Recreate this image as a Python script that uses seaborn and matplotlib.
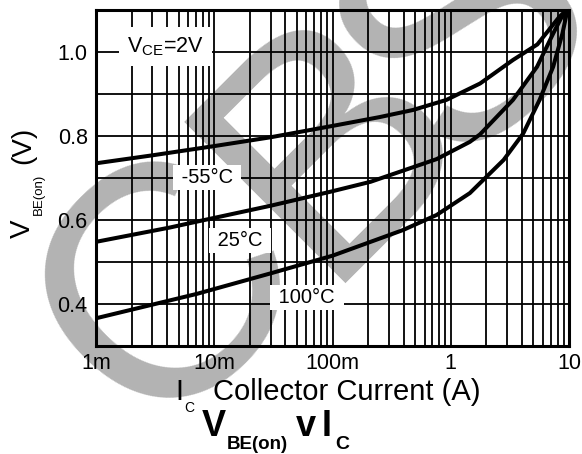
import matplotlib
matplotlib.use("Agg")
import matplotlib.pyplot as plt
import seaborn as sns
import pandas as pd
from matplotlib.ticker import FixedLocator, FixedFormatter, NullFormatter

# Base-emitter on-voltage versus collector current, VCE = 2 V
ic_m55 = [0.001, 0.003, 0.01, 0.03, 0.1, 0.25, 0.48, 0.92, 1.77, 3.36, 5.4, 7.0, 8.3, 9.6]
vbe_m55 = [0.735, 0.754, 0.776, 0.797, 0.824, 0.845, 0.862, 0.886, 0.925, 0.981, 1.018, 1.058, 1.084, 1.10]

ic_25 = [0.001, 0.0042, 0.0071, 0.03, 0.095, 0.21, 0.76, 1.45, 1.77, 3.36, 5.37, 7.35, 9.3]
vbe_25 = [0.548, 0.582, 0.596, 0.634, 0.667, 0.691, 0.745, 0.786, 0.804, 0.886, 0.965, 1.044, 1.10]

ic_100 = [0.001, 0.0071, 0.03, 0.1, 0.394, 0.76, 1.45, 2.8, 4.1, 5.64, 7.35, 8.8, 9.7]
vbe_100 = [0.366, 0.424, 0.473, 0.515, 0.576, 0.612, 0.664, 0.743, 0.806, 0.886, 0.965, 1.044, 1.10]

temp_labels = [" -55°C ", " 25°C ", " 100°C "]
temp_label_ic = [8.7e-3, 1.64e-2, 6.1e-2]
temp_label_vbe = [0.702, 0.552, 0.416]

x_ticks = [1e-3, 1e-2, 1e-1, 1, 10]
x_ticklabels = ["1m", "10m", "100m", "1", "10"]
x_minor = [m * d for d in [1e-3, 1e-2, 1e-1, 1] for m in range(2, 10)]
y_ticks = [0.4, 0.6, 0.8, 1.0]
y_ticklabels = ["0.4", "0.6", "0.8", "1.0"]
y_minor = [0.3, 0.5, 0.7, 0.9, 1.1]

sns.set_style("white")
plt.rcParams["font.family"] = ["Liberation Sans", "DejaVu Sans"]
plt.rcParams["mathtext.fontset"] = "custom"
plt.rcParams["mathtext.rm"] = "Liberation Sans"
plt.rcParams["mathtext.it"] = "Liberation Sans:italic"
plt.rcParams["mathtext.bf"] = "Liberation Sans:bold"
plt.rcParams["text.color"] = "black"
plt.rcParams["axes.labelcolor"] = "black"
plt.rcParams["xtick.color"] = "black"
plt.rcParams["ytick.color"] = "black"

W, H = 582, 454
fig = plt.figure(figsize=(W / 100, H / 100), dpi=100)
fig.patch.set_facecolor("white")


def fxy(px, py):
    return px / W, 1 - py / H


# grey logo lettering behind the chart, one letter at a time
for letter, (px, py) in zip("CBS", [(149, 439), (319, 283), (454, 170)]):
    fig.text(*fxy(px, py), letter, fontsize=238, color="#b3b3b3", rotation=45,
             rotation_mode="anchor", ha="left", va="baseline", zorder=-1)

ax = fig.add_axes([96 / W, 1 - 346 / H, (569 - 96) / W, (346 - 10) / H])
ax.set_facecolor("none")

curves = pd.concat([
    pd.DataFrame({"ic": ic_m55, "vbe": vbe_m55, "temp": "-55"}),
    pd.DataFrame({"ic": ic_25, "vbe": vbe_25, "temp": "25"}),
    pd.DataFrame({"ic": ic_100, "vbe": vbe_100, "temp": "100"}),
])
for t, grp in curves.groupby("temp", sort=False):
    sns.lineplot(data=grp, x="ic", y="vbe", ax=ax, color="black", lw=2.9,
                 estimator=None, sort=False, zorder=4)

ax.set_xscale("log")
ax.set_xlim(1e-3, 10)
ax.set_ylim(0.3, 1.1)
ax.xaxis.set_major_locator(FixedLocator(x_ticks))
ax.xaxis.set_major_formatter(FixedFormatter(x_ticklabels))
ax.xaxis.set_minor_locator(FixedLocator(x_minor))
ax.xaxis.set_minor_formatter(NullFormatter())
ax.yaxis.set_major_locator(FixedLocator(y_ticks))
ax.yaxis.set_major_formatter(FixedFormatter(y_ticklabels))
ax.yaxis.set_minor_locator(FixedLocator(y_minor))
ax.yaxis.set_minor_formatter(NullFormatter())
ax.grid(which="both", color="black", lw=1.3, zorder=1)
ax.set_axisbelow(True)
ax.tick_params(which="both", length=0, labelsize=15.5, colors="black")
ax.tick_params(axis="x", pad=5)
ax.tick_params(axis="y", pad=6)
for s in ax.spines.values():
    s.set_linewidth(2.2)
    s.set_color("black")
    s.set_zorder(6)
ax.set_xlabel("")
ax.set_ylabel("")

box = dict(boxstyle="square,pad=0.15", fc="white", ec="none")
for txt, xi, yi in zip(temp_labels, temp_label_ic, temp_label_vbe):
    ax.text(xi, yi, txt, fontsize=14.5, ha="center", va="center", bbox=box, zorder=5)

ax.text(3.9e-3, 1.012, r"$\mathregular{V_{CE}}$=2V", fontsize=15.5, ha="center",
        va="center", bbox=dict(boxstyle="square,pad=0.38", fc="white", ec="none"), zorder=5)

# x-axis label
fig.text(*fxy(175, 400), "I", fontsize=21, ha="left", va="baseline")
fig.text(*fxy(184.5, 412), "C", fontsize=10, ha="left", va="baseline")
fig.text(*fxy(213.5, 400), "Collector Current (A)", fontsize=21, ha="left", va="baseline")

# y-axis label
fig.text(*fxy(30, 238), "V", fontsize=20, rotation=90, rotation_mode="anchor",
         ha="left", va="baseline")
fig.text(*fxy(42, 215), "BE(on)", fontsize=9.5, rotation=90, rotation_mode="anchor",
         ha="left", va="baseline")
fig.text(*fxy(30, 164), "(V)", fontsize=20, rotation=90, rotation_mode="anchor",
         ha="left", va="baseline")

# title
fig.text(*fxy(202, 436), "V", fontsize=26, fontweight="bold", ha="left", va="baseline")
fig.text(*fxy(227, 449), "BE(on)", fontsize=13.5, fontweight="bold", ha="left", va="baseline")
fig.text(*fxy(296, 436), "v", fontsize=26, fontweight="bold", ha="left", va="baseline")
fig.text(*fxy(322, 436), "I", fontsize=26, fontweight="bold", ha="left", va="baseline")
fig.text(*fxy(335, 449), "C", fontsize=14, fontweight="bold", ha="left", va="baseline")

fig.savefig("out.png", dpi=100, facecolor="white")
